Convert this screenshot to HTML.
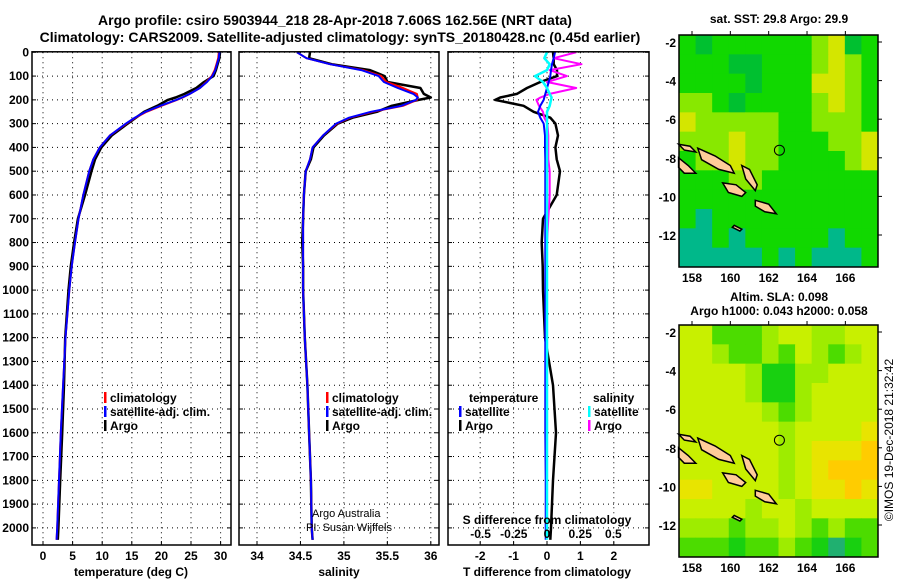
<!DOCTYPE html>
<html><head><meta charset="utf-8"><style>
body{margin:0;background:#fff}
svg{display:block;font-family:"Liberation Sans",sans-serif;font-weight:bold}
</style></head><body>
<svg id="c" width="900" height="580" viewBox="0 0 900 580">
<text x="335" y="25" font-size="14" text-anchor="middle">Argo profile: csiro 5903944_218 28-Apr-2018 7.606S 162.56E (NRT data)</text>
<text x="340" y="42" font-size="14" text-anchor="middle">Climatology: CARS2009. Satellite-adjusted climatology: synTS_20180428.nc (0.45d earlier)</text>
<text x="779" y="23" font-size="12" text-anchor="middle">sat. SST: 29.8 Argo: 29.9</text>
<text x="779" y="301" font-size="12" text-anchor="middle">Altim. SLA: 0.098</text>
<text x="779" y="315" font-size="12" text-anchor="middle">Argo h1000: 0.043 h2000: 0.058</text>
<text transform="translate(893,440) rotate(-90)" font-size="12" font-weight="normal" text-anchor="middle">©IMOS 19-Dec-2018 21:32:42</text>
<g id="plots"></g>
</svg>
<script>
const depths=[0,25,50,75,100,125,150,175,190,200,225,250,275,300,350,400,450,500,600,700,800,900,1000,1200,1400,1600,1800,2000,2050];
const tClim=[29.7,29.6,29.3,29.0,28.5,27.6,26.5,24.8,23.6,22.6,20.0,17.5,15.6,14.1,11.3,9.6,8.5,7.8,6.8,6.0,5.4,4.85,4.45,3.8,3.4,3.0,2.7,2.4,2.3];
const tSat=[29.8,29.7,29.4,29.1,28.6,27.7,26.5,24.8,23.5,22.5,19.8,17.3,15.5,14.0,11.3,9.6,8.5,7.8,6.8,6.0,5.4,4.85,4.45,3.8,3.4,3.0,2.7,2.4,2.3];
const tArgo=[29.9,29.8,29.5,29.2,28.8,27.2,25.9,23.9,22.4,21.1,19.3,17.1,15.7,14.3,11.6,9.85,8.8,8.2,7.1,5.9,5.25,4.7,4.3,3.75,3.55,3.25,2.9,2.6,2.5];
const sClim=[34.46,34.57,34.84,35.22,35.43,35.49,35.68,35.84,35.85,35.84,35.68,35.33,35.07,34.92,34.76,34.64,34.61,34.56,34.54,34.53,34.53,34.53,34.53,34.55,34.58,34.6,34.62,34.63,34.64];
const sSat=[34.46,34.57,34.84,35.2,35.4,35.46,35.62,35.8,35.85,35.83,35.66,35.31,35.06,34.91,34.76,34.64,34.61,34.56,34.54,34.53,34.53,34.53,34.53,34.55,34.58,34.6,34.62,34.63,34.64];
const sArgo=[34.61,34.6,34.86,35.3,35.47,35.5,35.88,35.92,36.0,35.86,35.55,35.38,35.1,34.93,34.77,34.65,34.62,34.56,34.54,34.53,34.52,34.53,34.53,34.55,34.58,34.6,34.62,34.63,34.64];
const dTArgo=[0.18,0.2,0.2,0.3,0.3,-0.2,-0.6,-0.9,-1.4,-1.55,-0.7,-0.4,0.1,0.25,0.33,0.25,0.29,0.39,0.29,-0.12,-0.16,-0.13,-0.12,-0.06,0.18,0.27,0.18,0.12,0.1];
const dTSat=[0.24,0.2,0.15,0.12,0.1,0.05,0.0,-0.05,-0.08,-0.1,-0.2,-0.27,-0.2,-0.1,-0.06,-0.06,-0.05,-0.05,-0.05,-0.05,-0.05,-0.05,-0.05,-0.05,-0.05,-0.05,-0.04,-0.04,-0.04];
const dSSat=[0.0,-0.02,0.02,0.0,-0.09,-0.03,0.0,0.02,0.035,0.03,0.02,0.0,0.0,0.0,0.0,0.0,0.0,0.0,0.0,0.0,0.0,0.0,0.0,0.0,0.0,0.0,0.0,0.0,0.0];
const dSArgo=[0.22,0.05,0.26,0.02,0.15,0.0,0.22,0.02,-0.05,-0.08,-0.06,-0.03,-0.02,0.003,0.01,0.01,0.01,0.02,0.02,0.01,0.0,0.0,0.0,0.0,-0.01,-0.01,null,null,null];
const depthTicks=[0,100,200,300,400,500,600,700,800,900,1000,1100,1200,1300,1400,1500,1600,1700,1800,1900,2000];
const tTicks=[0,5,10,15,20,25,30];
const sTicks=[34,34.5,35,35.5,36];
const dTTicks=[-2,-1,0,1,2];
const dSTicks=[-0.5,-0.25,0,0.25,0.5];
const dSTickLabels=["-0.5","-0.25","0","0.25","0.5"];
const lonTicks=[158,160,162,164,166];
const latTicks=[-2,-4,-6,-8,-10,-12];
const sstRows=["gGggggggyYGg","gggGGgggyYyg","ggggGgggYYyg","yygGggggyYyg","Yyyyyyggyyyg","yyyYyygggyyY","gyyYyyggggyY","gggyyggggggg","gggggggggggg","gtgggggggggg","ttgtgggggtgg","tttttgtgtttg"];
const slaRows=["yyggglyyllyy","yylgglgylgly","yyyylGGllyyy","yyyylGGlyyyy","yyyyylglyyyy","yyyyyylyyyyY","yyyyyylyYYYO","yyyyyylyYOOO","YYyyyylyYYOY","yyyylyylyyyy","lllgllylglgg","gggGgglgGTGg"];
const islands=[
[[158.3,-7.5],[159.2,-7.9],[160.0,-8.4],[160.2,-8.8],[159.4,-8.6],[158.5,-8.1]],
[[157.3,-7.3],[157.9,-7.4],[158.2,-7.7],[157.6,-7.6]],
[[157.3,-8.0],[157.8,-8.4],[158.2,-8.8],[157.6,-8.8],[157.3,-8.5]],
[[159.6,-9.3],[160.3,-9.4],[160.8,-9.8],[160.6,-10.0],[159.9,-9.8]],
[[160.6,-8.4],[161.0,-8.6],[161.4,-9.4],[161.3,-9.7],[160.8,-9.1]],
[[161.3,-10.2],[162.0,-10.4],[162.4,-10.9],[161.8,-10.8],[161.3,-10.5]],
[[160.2,-11.5],[160.6,-11.7],[160.5,-11.8],[160.1,-11.6]]];
const argoPos=[162.56,-7.606];

const NS="http://www.w3.org/2000/svg";
const G=document.getElementById('plots');
function mk(tag,at,parent){const e=document.createElementNS(NS,tag);for(const k in at)e.setAttribute(k,at[k]);(parent||G).appendChild(e);return e;}
const yTop=52.3,yBot=545,pxPer100=23.78;
const yD=d=>yTop+d*pxPer100/100;
const panels=[{x0:32,x1:231},{x0:239,x1:439},{x0:448,x1:649}];
const xT=v=>43+v*5.92, xS=v=>257+(v-34)*86.9, xDT=v=>547+v*33.4, xDS=v=>547+v*132.8;
function grid(p,xs,xf){
  depthTicks.forEach(d=>{const l=mk('line',{x1:p.x0,x2:p.x1,y1:yD(d),y2:yD(d),stroke:'#000','stroke-dasharray':'1 4'});
  
  mk('line',{x1:p.x0,x2:p.x0+4,y1:yD(d),y2:yD(d),stroke:'#000'});mk('line',{x1:p.x1-4,x2:p.x1,y1:yD(d),y2:yD(d),stroke:'#000'});});
  xs.forEach(v=>{const x=xf(v);const l=mk('line',{x1:x,x2:x,y1:yTop,y2:yBot,stroke:'#000','stroke-dasharray':'1 4'});
  
  mk('line',{x1:x,x2:x,y1:yBot-4,y2:yBot,stroke:'#000'});});
}
function frame(p,name){const r=mk('rect',{x:p.x0,y:yTop-0.5,width:p.x1-p.x0,height:yBot-yTop+0.5,fill:'none',stroke:'#000','stroke-width':1.5});
}
function line(vals,xf,color,name,w){let d='';let pen=false;vals.forEach((v,i)=>{if(v===null){pen=false;return;}d+=(pen?'L':'M')+xf(v).toFixed(1)+' '+yD(depths[i]).toFixed(1);pen=true;});
const p=mk('path',{d:d,fill:'none',stroke:color,'stroke-width':w||2,'stroke-linejoin':'round'});}
function txt(x,y,s,o){const t=mk('text',Object.assign({x:x,y:y,'font-size':12},o||{}));t.textContent=s;return t;}
grid(panels[0],tTicks,xT);
line(tArgo,xT,'#000','temp-argo-line',2.5);line(tClim,xT,'#f00','temp-climatology-line');line(tSat,xT,'#00f','temp-satellite-line');
frame(panels[0],'temperature-panel');
depthTicks.forEach(d=>{const t=txt(29,yD(d)+4,String(d),{'text-anchor':'end'});});
tTicks.forEach(v=>{const t=txt(xT(v),560,String(v),{'text-anchor':'middle'});});
txt(131,576,'temperature (deg C)',{'text-anchor':'middle'});
grid(panels[1],sTicks,xS);
line(sArgo,xS,'#000','sal-argo-line',2.5);line(sClim,xS,'#f00','sal-climatology-line');line(sSat,xS,'#00f','sal-satellite-line');
frame(panels[1],'salinity-panel');
sTicks.forEach(v=>{const t=txt(xS(v),560,String(v),{'text-anchor':'middle'});});
txt(339,576,'salinity',{'text-anchor':'middle'});
txt(312,517,'Argo Australia',{'font-weight':'normal','font-size':11});
txt(306,531,'PI: Susan Wijffels',{'font-weight':'normal','font-size':11});
function leg(x,y,color,label,name){const g=mk('g',{});
mk('rect',{x:x,y:y-10,width:2.5,height:11,fill:color},g);const t=mk('text',{x:x+6,y:y,'font-size':12},g);t.textContent=label;}
leg(104,402,'#f00','climatology','legend-climatology');leg(104,416,'#00f','satellite-adj. clim.','legend-satellite-adj');leg(104,430,'#000','Argo','legend-argo');
leg(326,402,'#f00','climatology','legend2-climatology');leg(326,416,'#00f','satellite-adj. clim.','legend2-satellite-adj');leg(326,430,'#000','Argo','legend2-argo');
grid(panels[2],dTTicks,xDT);
line(dTArgo,xDT,'#000','tdiff-argo-line',2.5);line(dSArgo,xDS,'#f0f','sdiff-argo-line');line(dTSat,xDT,'#00f','tdiff-satellite-line');line(dSSat,xDS,'#0ff','sdiff-satellite-line',2.5);
frame(panels[2],'difference-panel');
txt(469,402,'temperature');
leg(459,416,'#00f','satellite','legend-t-satellite');leg(459,430,'#000','Argo','legend-t-argo');
txt(593,402,'salinity');
leg(588,416,'#0ff','satellite','legend-s-satellite');leg(588,430,'#f0f','Argo','legend-s-argo');
txt(547,524,'S difference from climatology',{'text-anchor':'middle'});
dSTicks.forEach((v,i)=>{const t=txt(xDS(v),538,dSTickLabels[i],{'text-anchor':'middle'});});
dTTicks.forEach(v=>{const t=txt(xDT(v),560,String(v),{'text-anchor':'middle'});});
txt(547,576,'T difference from climatology',{'text-anchor':'middle'});
const pal1={g:'#11d800',G:'#00c030',y:'#88e800',Y:'#d4e600',t:'#00b88a'};
const pal2={Y:'#e8e400',O:'#ffcc00',y:'#c8f000',l:'#9eec00',g:'#4cdc00',G:'#18d010',T:'#20b070'};
function map(y0,rows,pal,name){
  const x0=679,x1=878,y1=y0+232;
  const lonX=l=>692+(l-158)*19.17, latY=a=>y0+7+(-2-a)*19.3;
  const g=mk('g',{});
  const nr=rows.length,nc=rows[0].length,cw=(x1-x0)/nc,ch=(y1-y0)/nr;
  rows.forEach((r,i)=>{for(let j=0;j<nc;j++){const c=mk('rect',{x:x0+j*cw,y:y0+i*ch,width:cw+0.5,height:ch+0.5,fill:pal[r[j]]},g);
    }});
  islands.forEach(poly=>{const p=mk('polygon',{points:poly.map(q=>lonX(q[0]).toFixed(1)+','+latY(q[1]).toFixed(1)).join(' '),fill:'#ffcc99',stroke:'#000','stroke-width':1.5},g);
    });
  const m=mk('circle',{cx:lonX(argoPos[0]),cy:latY(argoPos[1]),r:5,fill:'none',stroke:'#000','stroke-width':1},g);
  
  mk('rect',{x:x0,y:y0,width:x1-x0,height:y1-y0,fill:'none',stroke:'#000','stroke-width':1.5},g);
  lonTicks.forEach(l=>{mk('line',{x1:lonX(l),x2:lonX(l),y1:y0-4,y2:y0,stroke:'#000'},g);
    const t=txt(lonX(l),y1+15,String(l),{'text-anchor':'middle'});});
  latTicks.forEach(a=>{mk('line',{x1:x1,x2:x1+4,y1:latY(a),y2:latY(a),stroke:'#000'},g);
    const t=txt(x0-3,latY(a)+5,String(a),{'text-anchor':'end'});});
}
map(35,sstRows,pal1,'sst-map');
map(325,slaRows,pal2,'sla-map');
</script>
</body></html>
